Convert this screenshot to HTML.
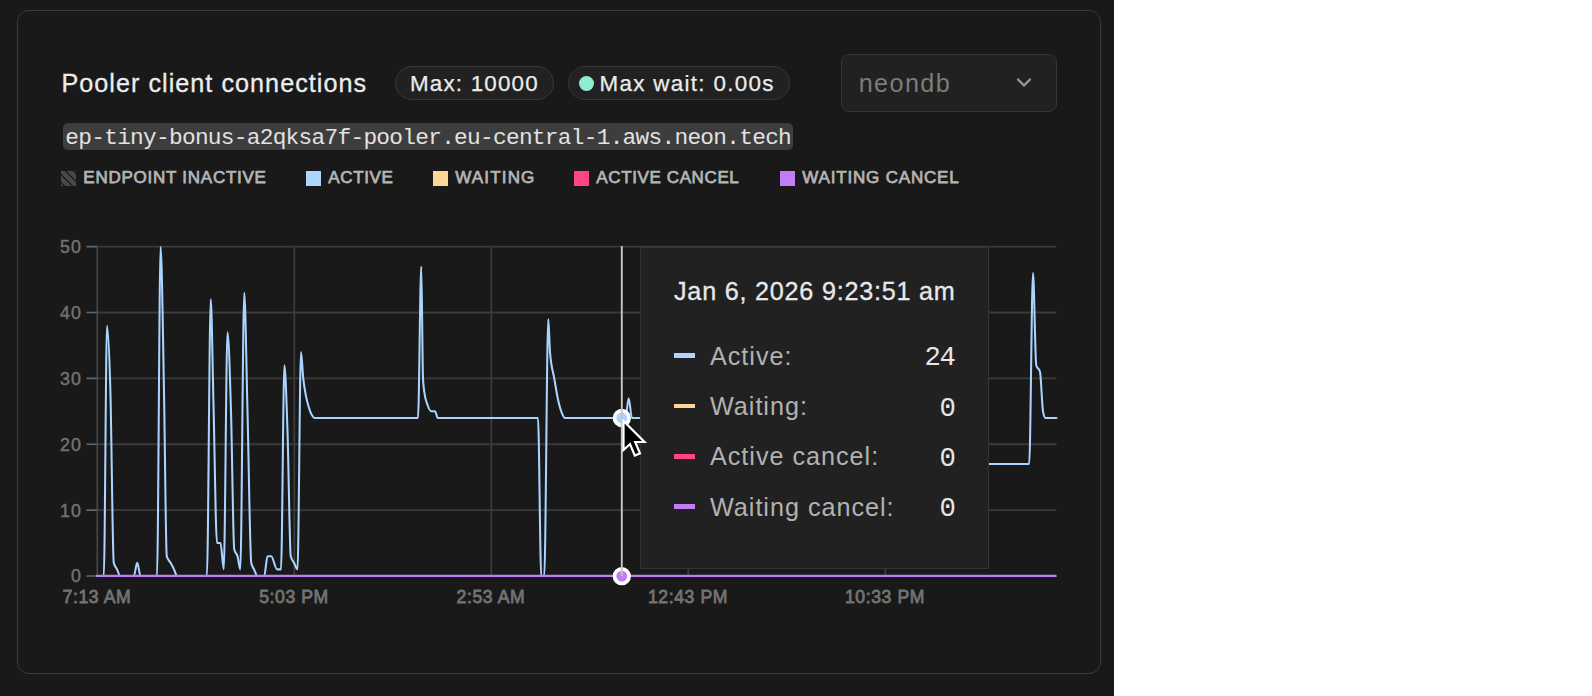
<!DOCTYPE html>
<html lang="en">
<head>
<meta charset="utf-8">
<title>Pooler client connections</title>
<style>
  html, body { margin: 0; padding: 0; }
  body {
    width: 1592px; height: 696px; overflow: hidden; position: relative;
    background: #ffffff;
    font-family: "Liberation Sans", sans-serif;
    -webkit-font-smoothing: antialiased;
  }
  .page { position: absolute; left: 0; top: 0; width: 1114px; height: 696px; background: #191919; overflow: hidden; }
  .card {
    position: absolute; left: 17px; top: 10px; width: 1082px; height: 662px;
    border: 1px solid #3b3b3b; border-radius: 12px; background: #191919;
  }
  .abs { position: absolute; white-space: nowrap; line-height: 1; }
  .title { left: 61.4px; top: 70.8px; font-size: 25.2px; color: #ececec; letter-spacing: 1.03px; -webkit-text-stroke: 0.3px #ececec; }
  .badge {
    position: absolute; top: 66px; height: 32px; border: 1px solid #383838; border-radius: 17px;
    background: #212121; box-sizing: content-box;
  }
  .badge span { position: absolute; white-space: nowrap; line-height: 1; font-size: 22.4px; color: #ececec; top: 5.9px; -webkit-text-stroke: 0.25px #ececec; }
  .dot { position: absolute; left: 10px; top: 9px; width: 15px; height: 15px; border-radius: 50%; background: #8eecd3; }
  .select {
    position: absolute; left: 841px; top: 54px; width: 214px; height: 56px;
    border: 1px solid #363636; border-radius: 8px; background: #212121;
  }
  .select span { position: absolute; left: 16.7px; top: 15.8px; font-size: 25.2px; line-height: 1; color: #7c7c7c; letter-spacing: 1.4px; }
  .select svg { position: absolute; left: 170.5px; top: 20px; }
  .code {
    position: absolute; left: 63px; top: 123px; width: 730px; height: 27px; border-radius: 5px;
    background: #3d3d3d;
  }
  .code span {
    position: absolute; left: 2.3px; top: 3.6px; white-space: nowrap; line-height: 1;
    font-family: "Liberation Mono", monospace; font-size: 22.8px; letter-spacing: -0.72px; color: #e2e2e2;
  }
  .legend { position: absolute; left: 0; top: 0; }
  .lg { position: absolute; top: 171px; height: 15px; }
  .lg i { position: absolute; left: 0; top: 0; width: 15px; height: 15px; display: block; }
  .lg b { position: absolute; left: 22.3px; top: -1.9px; font-size: 17px; letter-spacing: 0.62px; line-height: 1; font-weight: 400; color: #b4b4b4; -webkit-text-stroke: 0.75px #b4b4b4; white-space: nowrap; }
  .hatch { background: repeating-linear-gradient(45deg, #484848 0, #484848 1.95px, #202020 2.2px, #202020 3.2px, #484848 3.45px, #484848 5.55px); }
  #chart { position: absolute; left: 0; top: 0; }
  .tooltip {
    position: absolute; left: 640px; top: 247px; width: 347px; height: 320px;
    background: #212121; border: 1px solid #343434;
  }
  .tt-title { left: 33px; top: 30.7px; font-size: 25.2px; color: #e8e8e8; letter-spacing: 0.77px; -webkit-text-stroke: 0.3px #e8e8e8; }
  .tt-row { position: absolute; left: 0; width: 347px; height: 24px; }
  .tt-row i { position: absolute; left: 32.5px; top: 9.7px; width: 21.5px; height: 4.7px; display: block; }
  .tt-row span { position: absolute; left: 69px; top: 0; font-size: 25.2px; line-height: 1; color: #b2b2b2; white-space: nowrap; letter-spacing: 0.98px; }
  .tt-row em { position: absolute; right: 33.6px; top: 0.7px; font-style: normal; font-family: "Liberation Mono", monospace; font-size: 27.3px; letter-spacing: -1.4px; line-height: 1; color: #e6e6e6; white-space: nowrap; }
  #cursor { position: absolute; left: 620px; top: 419px; }
</style>
</head>
<body>
<div class="page">
  <div class="card"></div>

  <div class="abs title">Pooler client connections</div>

  <div class="badge" style="left:395px;width:157px;"><span style="left:13.9px;letter-spacing:1.2px;">Max: 10000</span></div>
  <div class="badge" style="left:568px;width:220px;"><div class="dot"></div><span style="left:30.5px;letter-spacing:1.31px;">Max wait: 0.00s</span></div>

  <div class="select"><span>neondb</span>
    <svg width="24" height="20" viewBox="0 0 24 20"><path d="M5 4.4 L11 10.6 L17 4.4" fill="none" stroke="#9a9a9a" stroke-width="2.2" stroke-linecap="round" stroke-linejoin="round"/></svg>
  </div>

  <div class="code"><span>ep-tiny-bonus-a2qksa7f-pooler.eu-central-1.aws.neon.tech</span></div>

  <div class="legend">
    <div class="lg" style="left:61px;"><i class="hatch"></i><b style="letter-spacing:0.75px">ENDPOINT INACTIVE</b></div>
    <div class="lg" style="left:306px;"><i style="background:#add6ff;"></i><b>ACTIVE</b></div>
    <div class="lg" style="left:433px;"><i style="background:#ffd699;"></i><b style="letter-spacing:1.15px">WAITING</b></div>
    <div class="lg" style="left:574px;"><i style="background:#ff4581;"></i><b>ACTIVE CANCEL</b></div>
    <div class="lg" style="left:780px;"><i style="background:#c27cf8;"></i><b style="letter-spacing:0.82px">WAITING CANCEL</b></div>
  </div>

  <svg id="chart" width="1114" height="696" viewBox="0 0 1114 696" font-family="'Liberation Sans', sans-serif">
    <!-- horizontal grid -->
    <g stroke="#3b3b3b" stroke-width="1.8" fill="none">
      <path d="M97 246.65H1056.5M97 312.5H1056.5M97 378.4H1056.5M97 444.25H1056.5M97 510.1H1056.5M97 576H1056.5"/>
      <path d="M97.3 246V577M294.3 246V577M491.3 246V577M688.3 246V577M885.3 246V577"/>
    </g>
    <path d="M97.4 246V576.5" stroke="#444444" stroke-width="1.2" fill="none"/>
    <!-- y ticks -->
    <g stroke="#666666" stroke-width="1.6" fill="none">
      <path d="M86.5 246.65H97M86.5 312.5H97M86.5 378.4H97M86.5 444.25H97M86.5 510.1H97M86.5 576H97"/>
    </g>
    <!-- y labels -->
    <g fill="#727272" font-size="17.8" font-weight="400" stroke="#727272" stroke-width="0.45" text-anchor="end" letter-spacing="0.9">
      <text x="81.7" y="253">50</text>
      <text x="81.7" y="319">40</text>
      <text x="81.7" y="385">30</text>
      <text x="81.7" y="451">20</text>
      <text x="81.7" y="517">10</text>
      <text x="81.7" y="582.3">0</text>
    </g>
    <!-- x labels -->
    <g fill="#727272" font-size="17.6" font-weight="400" stroke="#727272" stroke-width="0.8" text-anchor="middle" letter-spacing="0.6">
      <text x="97" y="603">7:13 AM</text>
      <text x="294" y="603">5:03 PM</text>
      <text x="491" y="603">2:53 AM</text>
      <text x="688" y="603">12:43 PM</text>
      <text x="885" y="603">10:33 PM</text>
    </g>
    <!-- series -->
    <path d="M97.00,575.95C99.27,575.95 101.53,575.95 103.80,575.95C104.87,575.95 105.93,325.72 107.00,325.72C108.13,325.72 109.27,351.50 110.40,391.57C111.52,431.05 112.63,558.25 113.75,562.78C114.83,567.17 115.92,567.19 117.00,569.37C118.10,571.58 119.20,575.95 120.30,575.95C124.82,575.95 129.33,575.95 133.85,575.95C134.97,575.95 136.08,562.78 137.20,562.78C138.32,562.78 139.43,575.95 140.55,575.95C146.03,575.95 151.52,575.95 157.00,575.95C158.20,575.95 159.40,246.70 160.60,246.70C161.73,246.70 162.87,332.47 164.00,391.57C164.92,439.37 165.83,552.98 166.75,556.20C168.00,560.59 169.25,560.50 170.50,562.78C171.67,564.90 172.83,566.97 174.00,569.37C175.00,571.42 176.00,575.95 177.00,575.95C186.97,575.95 196.93,575.95 206.90,575.95C208.18,575.95 209.47,299.38 210.75,299.38C211.67,299.38 212.58,369.14 213.50,404.74C214.67,450.05 215.83,543.03 217.00,543.03C218.17,543.03 219.33,543.03 220.50,543.03C221.58,543.03 222.67,569.37 223.75,569.37C225.00,569.37 226.25,332.31 227.50,332.31C228.67,332.31 229.83,372.90 231.00,411.33C232.08,447.00 233.17,545.22 234.25,549.61C235.33,554.00 236.42,552.44 237.50,556.20C238.43,559.43 239.37,569.37 240.30,569.37C241.62,569.37 242.93,292.80 244.25,292.80C245.33,292.80 246.42,369.84 247.50,411.33C248.75,459.19 250.00,556.79 251.25,562.78C252.17,567.17 253.08,567.38 254.00,569.37C255.17,571.90 256.33,575.95 257.50,575.95C259.75,575.95 262.00,575.95 264.25,575.95C265.33,575.95 266.42,556.20 267.50,556.20C268.75,556.20 270.00,556.20 271.25,556.20C273.17,556.20 275.08,569.37 277.00,569.37C278.33,569.37 279.67,569.37 281.00,569.37C282.13,569.37 283.27,365.23 284.40,365.23C285.43,365.23 286.47,400.43 287.50,431.08C288.58,463.22 289.67,551.81 290.75,556.20C291.83,560.59 292.92,560.66 294.00,562.78C295.17,565.06 296.33,569.37 297.50,569.37C298.67,569.37 299.83,352.06 301.00,352.06C301.75,352.06 302.50,371.39 303.25,378.40C304.17,386.97 305.08,391.36 306.00,396.18C307.00,401.44 308.00,404.85 309.00,408.03C310.00,411.22 311.00,413.60 312.00,415.28C312.83,416.67 313.67,417.91 314.50,417.91C349.00,417.91 383.50,417.91 418.00,417.91C419.08,417.91 420.17,266.46 421.25,266.46C421.83,266.46 422.42,366.11 423.00,378.40C423.42,387.18 423.83,388.19 424.25,391.57C425.33,400.35 426.42,401.50 427.50,404.74C428.75,408.47 430.00,411.33 431.25,411.33C432.50,411.33 433.75,411.33 435.00,411.33C435.93,411.33 436.87,417.91 437.80,417.91C471.20,417.91 504.60,417.91 538.00,417.91C539.08,417.91 540.17,575.95 541.25,575.95C542.27,575.95 543.28,575.95 544.30,575.95C545.62,575.95 546.93,319.14 548.25,319.14C548.83,319.14 549.42,344.83 550.00,352.06C551.42,369.62 552.83,370.06 554.25,378.40C555.50,385.76 556.75,393.76 558.00,399.47C559.33,405.57 560.67,410.15 562.00,413.30C563.00,415.66 564.00,417.91 565.00,417.91C585.17,417.91 605.33,417.91 625.50,417.91C626.57,417.91 627.63,398.16 628.70,398.16C629.77,398.16 630.83,417.91 631.90,417.91C654.60,417.91 677.30,417.91 700.00,417.91C701.00,417.91 702.00,464.01 703.00,464.01C811.73,464.01 920.47,464.01 1029.20,464.01C1030.47,464.01 1031.73,273.04 1033.00,273.04C1034.08,273.04 1035.17,361.43 1036.25,365.23C1037.50,369.62 1038.75,367.43 1040.00,371.82C1041.00,375.33 1042.00,406.06 1043.00,411.33C1043.83,415.72 1044.67,417.91 1045.50,417.91C1049.17,417.91 1052.83,417.91 1056.50,417.91" fill="none" stroke="#aad4ff" stroke-width="2.05" stroke-linejoin="round" stroke-linecap="round"/>
    <path d="M97 575.92H1056.5" stroke="#c27cf8" stroke-width="2.25" fill="none"/>
    <!-- crosshair -->
    <circle cx="621.8" cy="418" r="7.3" fill="#aad4ff" stroke="#ffffff" stroke-width="3.7"/>
    <circle cx="621.8" cy="576.2" r="7.3" fill="#c27cf8" stroke="#ffffff" stroke-width="3.7"/>
    <path d="M621.8 246V576" stroke="#c6c6c6" stroke-width="1.9" fill="none"/>
  </svg>

  <div class="tooltip">
    <div class="abs tt-title">Jan 6, 2026 9:23:51 am</div>
    <div class="tt-row" style="top:95.6px;"><i style="background:#add6ff;"></i><span>Active:</span><em>24</em></div>
    <div class="tt-row" style="top:145.9px;"><i style="background:#ffd699;"></i><span>Waiting:</span><em>0</em></div>
    <div class="tt-row" style="top:196.2px;"><i style="background:#ff4581;"></i><span>Active cancel:</span><em>0</em></div>
    <div class="tt-row" style="top:246.5px;"><i style="background:#c27cf8;"></i><span>Waiting cancel:</span><em>0</em></div>
  </div>

  <svg id="cursor" width="30" height="42" viewBox="0 0 30 42">
    <path d="M3.5 2 L3.5 31 L10 25 L14.8 36.5 L20 34.3 L15.2 23 L24.5 23 Z" fill="#000000" stroke="#ffffff" stroke-width="2.2" stroke-linejoin="miter"/>
  </svg>
</div>
</body>
</html>
